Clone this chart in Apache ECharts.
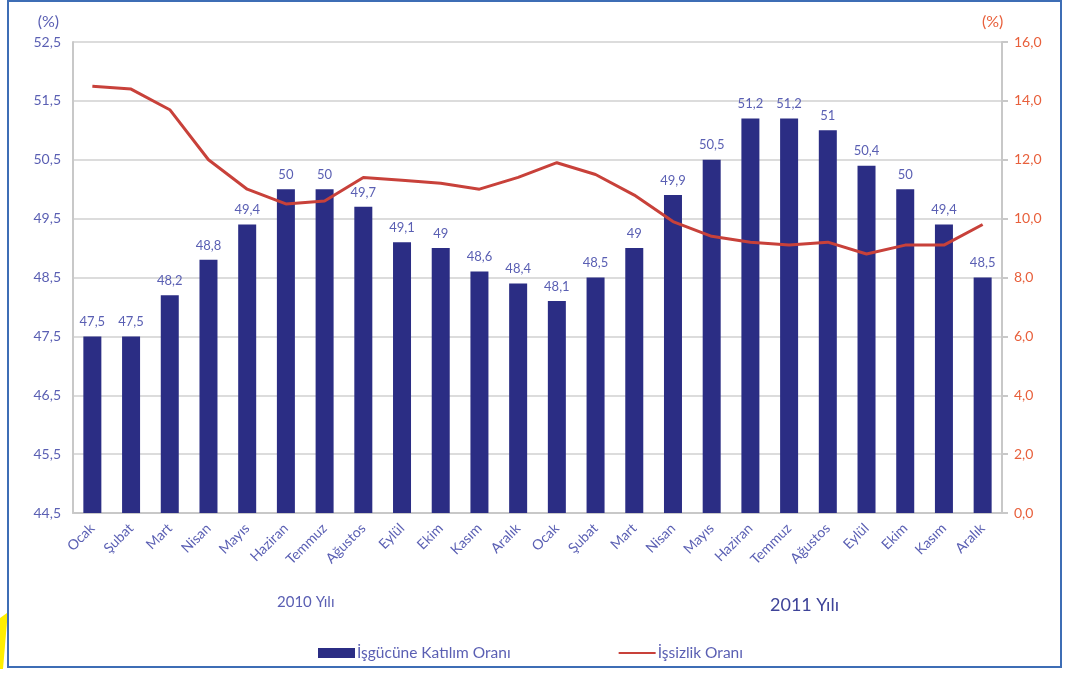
<!DOCTYPE html>
<html>
<head>
<meta charset="utf-8">
<script src="https://cdn.jsdelivr.net/npm/echarts@6/dist/echarts.min.js"></script>
<style>
  html, body { margin: 0; padding: 0; background: #fff; }
  #chart { width: 1069px; height: 673px; }
</style>
</head>
<body>
<div id="chart"></div>
<script>
// data
var months = ['Ocak', 'Şubat', 'Mart', 'Nisan', 'Mayıs', 'Haziran', 'Temmuz', 'Ağustos', 'Eylül', 'Ekim', 'Kasım', 'Aralık',
  'Ocak', 'Şubat', 'Mart', 'Nisan', 'Mayıs', 'Haziran', 'Temmuz', 'Ağustos', 'Eylül', 'Ekim', 'Kasım', 'Aralık'];
var participation = [47.5, 47.5, 48.2, 48.8, 49.4, 50, 50, 49.7, 49.1, 49, 48.6, 48.4,
  48.1, 48.5, 49, 49.9, 50.5, 51.2, 51.2, 51, 50.4, 50, 49.4, 48.5];
var unemployment = [14.5, 14.4, 13.7, 12.0, 11.0, 10.5, 10.6, 11.4, 11.3, 11.2, 11.0, 11.4,
  11.9, 11.5, 10.8, 9.9, 9.4, 9.2, 9.1, 9.2, 8.8, 9.1, 9.1, 9.8];
var yearLabels = ['2010 Yılı', '2011 Yılı'];
var seriesNames = ['İşgücüne Katılım Oranı', 'İşsizlik Oranı'];

var blueText = '#5a5fb3';
var redText = '#e8603c';
var fontFam = 'Lato, "Open Sans", sans-serif';

function comma(v) { return String(v).replace('.', ','); }

var chart = echarts.init(document.getElementById('chart'));
var option = {
  backgroundColor: '#fff',
  animation: false,
  textStyle: { fontFamily: fontFam },
  grid: { left: 73, right: 67, top: 42, bottom: 160 },
  legend: {
    left: 313, top: 640,
    itemWidth: 37, itemHeight: 10, itemGap: 107,
    textStyle: { color: blueText, fontSize: 15.5, fontFamily: fontFam, padding: [0, 0, 0, -3] },
    data: [
      { name: seriesNames[0], icon: 'rect' },
      { name: seriesNames[1], itemStyle: { opacity: 0 } }
    ]
  },
  xAxis: {
    type: 'category',
    data: months,
    axisLine: { lineStyle: { color: '#c8c8c8', width: 2 } },
    axisTick: { show: false },
    axisLabel: { rotate: 45, color: blueText, fontSize: 14, margin: 13, interval: 0 }
  },
  yAxis: [{
    type: 'value', min: 44.5, max: 52.5, interval: 1,
    name: '(%)', nameGap: 12,
    nameTextStyle: { color: blueText, fontSize: 16, align: 'right', padding: [0, 14, 0, 0] },
    axisLine: { show: true, lineStyle: { color: '#c8c8c8', width: 2 } },
    axisTick: { show: false },
    splitLine: { lineStyle: { color: '#dcdcdc', width: 2 } },
    axisLabel: { color: blueText, fontSize: 14, margin: 12, formatter: function (v) { return comma(v.toFixed(1)); } }
  }, {
    type: 'value', min: 0, max: 16, interval: 2,
    name: '(%)', nameGap: 12,
    nameTextStyle: { color: redText, fontSize: 16, align: 'left', padding: [0, 0, 0, -20] },
    position: 'right',
    axisLine: { show: true, lineStyle: { color: '#c8c8c8', width: 2 } },
    axisTick: { show: true, length: 6, inside: false, lineStyle: { color: '#c8c8c8', width: 2 } },
    splitLine: { show: false },
    axisLabel: { color: redText, fontSize: 14, margin: 12, formatter: function (v) { return comma(v.toFixed(1)); } }
  }],
  series: [{
    name: seriesNames[0],
    type: 'bar',
    yAxisIndex: 0,
    data: participation,
    barWidth: 18,
    itemStyle: { color: '#2b2d84' },
    label: {
      show: true, position: 'top', distance: 8,
      color: blueText, fontSize: 13,
      formatter: function (p) { return comma(p.value); }
    }
  }, {
    name: seriesNames[1],
    type: 'line',
    yAxisIndex: 1,
    data: unemployment,
    symbol: 'none',
    lineStyle: { color: '#c8413a', width: 3 },
    itemStyle: { color: '#c8413a' }
  }],
  graphic: [
    { type: 'text', left: 277, top: 595, style: { text: yearLabels[0], fill: '#5a5fb3', font: '15px ' + fontFam } },
    { type: 'text', left: 770, top: 596, style: { text: yearLabels[1], fill: '#3f4499', font: '18px ' + fontFam } },
    { type: 'rect', shape: { x: 8, y: 1, width: 1053, height: 666 }, style: { fill: 'none', stroke: '#3e6db5', lineWidth: 2 }, z: 100 },
    { type: 'polygon', shape: { points: [[0, 618], [7, 613], [7, 622], [3, 669], [0, 669]] }, style: { fill: '#ffee00' }, z: 100 }
  ]
};

if (option && typeof option === 'object') {
  chart.setOption(option);
}
</script>
</body>
</html>
